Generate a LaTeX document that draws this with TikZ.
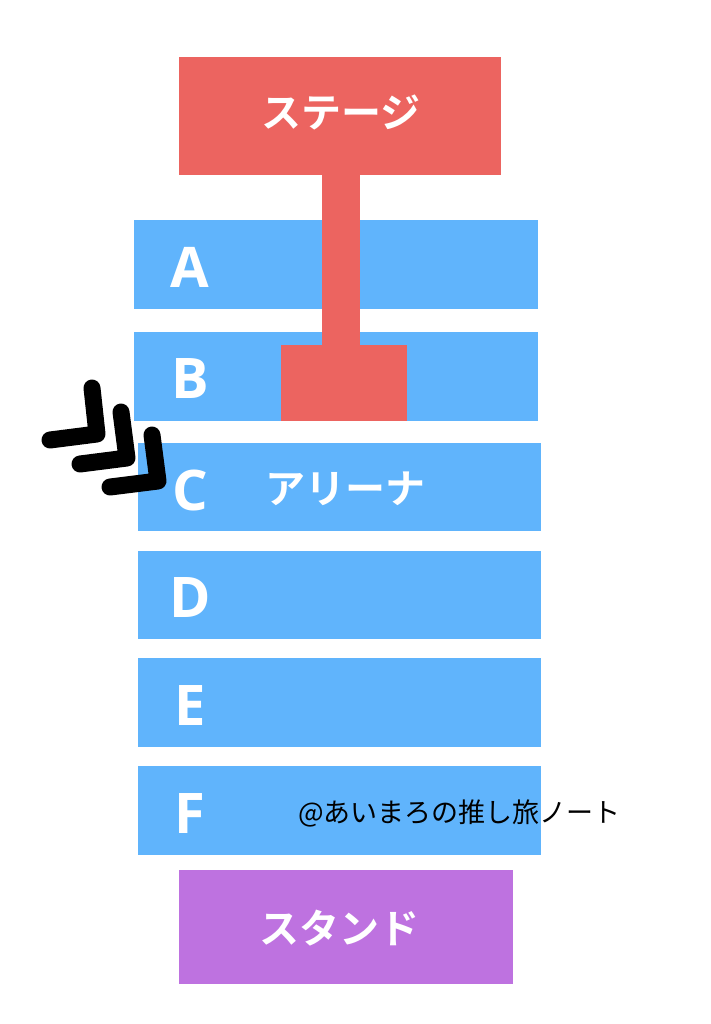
\documentclass[tikz,border=0pt]{standalone}
\usepackage{fontspec}
\setmainfont{Noto Sans CJK JP}
\newfontfamily\latinb{Open Sans}
\newfontfamily\jpfont{Noto Sans CJK JP}[BoldFont={Noto Sans CJK JP Bold}]
\definecolor{stagered}{RGB}{236,100,96}
\definecolor{seatblue}{RGB}{96,180,252}
\definecolor{standpurple}{RGB}{190,114,224}
\tikzset{
  blk/.style={inner sep=0pt, outer sep=0pt, draw=none},
  rowlbl/.style={text=white, font=\latinb\bfseries\fontsize{56}{60}\selectfont, inner sep=0pt},
  bigjp/.style={text=white, font=\jpfont\bfseries\fontsize{40}{44}\selectfont, inner sep=0pt},
  wm/.style={text=black, font=\jpfont\fontsize{27}{30}\selectfont, inner sep=0pt},
  chev/.style={draw=black, line width=17pt, line cap=round, line join=round}
}
\begin{document}
\begin{tikzpicture}[x=1pt,y=-1pt]
\useasboundingbox[fill=white] (0,0) rectangle (711,1024);
% seat rows
\node[blk, fill=seatblue, minimum width=404pt, minimum height=89pt] (A) at (336,264.5) {};
\node[blk, fill=seatblue, minimum width=404pt, minimum height=89pt] (B) at (336,376.5) {};
\node[blk, fill=seatblue, minimum width=403pt, minimum height=88pt] (C) at (339.5,487) {};
\node[blk, fill=seatblue, minimum width=403pt, minimum height=88pt] (D) at (339.5,595) {};
\node[blk, fill=seatblue, minimum width=403pt, minimum height=89pt] (E) at (339.5,702.5) {};
\node[blk, fill=seatblue, minimum width=403pt, minimum height=89pt] (F) at (339.5,810.5) {};
% stage
\node[blk, fill=stagered, minimum width=322pt, minimum height=118pt] (stage) at (340,116) {};
\node[blk, fill=stagered, minimum width=126pt, minimum height=76pt] (block) at (344,383) {};
\fill[stagered] (stage.south -| 322,0) rectangle (block.north -| 360,0);
% stand
\node[blk, fill=standpurple, minimum width=334pt, minimum height=114pt] (stand) at (346,927) {};
% labels
\node[bigjp] (tstage) at (341,112) {ステージ};
\node[bigjp] (tarena) at (345,489) {アリーナ};
\node[bigjp] (tstand) at (339,928) {スタンド};
\node[rowlbl] (lA) at (190,267) {A};
\node[rowlbl] (lB) at (190,379) {B};
\node[rowlbl] (lC) at (190,490) {C};
\node[rowlbl] (lD) at (190,598) {D};
\node[rowlbl] (lE) at (190,706) {E};
\node[rowlbl] (lF) at (190,814) {F};
\node[wm, anchor=west] (wmark) at (298,813) {@あいまろの推し旅ノート};
% chevrons
\draw[chev] (92,388) -- (97,434) -- (50,440);
\draw[chev] (121,412) -- (127,458) -- (80,464);
\draw[chev] (152,435) -- (158,481) -- (110,487);
\end{tikzpicture}
\end{document}
